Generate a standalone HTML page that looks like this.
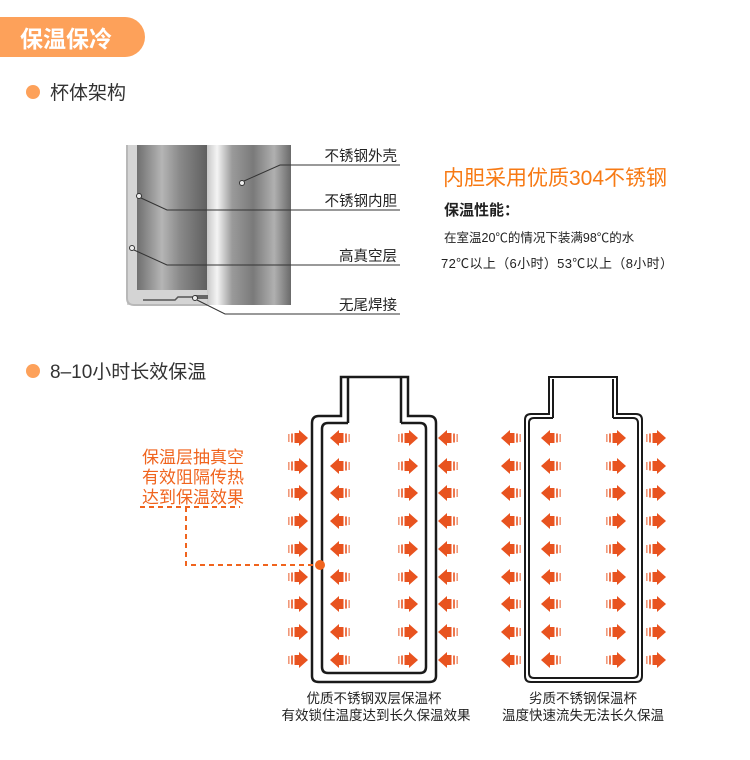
<!DOCTYPE html>
<html><head><meta charset="utf-8"><style>
body{margin:0;background:#fff;}
svg{display:block;font-family:"Liberation Sans","Noto Sans CJK SC",sans-serif;}
</style></head><body>
<svg width="750" height="760" viewBox="0 0 750 760" xmlns="http://www.w3.org/2000/svg">
<defs>
<g id="ar">
<rect x="0" y="4" width="1.6" height="8" fill="#e8531f" opacity="0.6"/>
<rect x="3" y="3.5" width="2" height="9" fill="#e8531f" opacity="0.8"/>
<rect x="6.5" y="3" width="5" height="10" fill="#e8531f"/>
<polygon points="11,0 20,8 11,16" fill="#e8531f"/>
</g>
<linearGradient id="g1" x1="0" x2="1" y1="0" y2="0">
<stop offset="0" stop-color="#6f6f6f"/><stop offset="0.35" stop-color="#b5b5b5"/><stop offset="0.6" stop-color="#8a8a8a"/><stop offset="1" stop-color="#5e5e5e"/>
</linearGradient>
<linearGradient id="g2" x1="0" x2="1" y1="0" y2="0">
<stop offset="0" stop-color="#c8c8c8"/><stop offset="0.12" stop-color="#f4f4f4"/><stop offset="0.3" stop-color="#9a9a9a"/><stop offset="0.55" stop-color="#7a7a7a"/><stop offset="0.8" stop-color="#b0b0b0"/><stop offset="1" stop-color="#6a6a6a"/>
</linearGradient>
</defs>
<path d="M0 17 H125 A20 20 0 0 1 125 57 H0 Z" fill="#fda15a"/>
<text x="20" y="47" font-size="23" font-weight="bold" fill="#fff">保温保冷</text>
<circle cx="33" cy="92" r="7" fill="#fda15a"/>
<text x="50" y="99" font-size="19" fill="#333">杯体架构</text>
<rect x="127" y="145" width="84" height="160" fill="#d4d4d4"/>
<rect x="137" y="145" width="71" height="145" fill="url(#g1)"/>
<rect x="207" y="145" width="84" height="160" fill="url(#g2)"/>
<path d="M127 145 V298 Q127 305 134 305 H207" fill="none" stroke="#b8b8b8" stroke-width="2"/>
<path d="M143 300 H175 L178 297 H207" fill="none" stroke="#555" stroke-width="1.5"/>
<rect x="195" y="295" width="13" height="4" fill="#666"/>
<g stroke="#333" stroke-width="1" fill="none">
<circle cx="242" cy="183" r="2.5" fill="#eee"/><path d="M244 181 L280 165 H400"/>
<circle cx="139" cy="196" r="2.5" fill="#eee"/><path d="M141 198 L167 210 H400"/>
<circle cx="132" cy="248" r="2.5" fill="#eee"/><path d="M134 250 L167 265 H400"/>
<circle cx="195" cy="298" r="2.5" fill="#eee"/><path d="M197 300 L225 314 H400"/>
</g>
<g font-size="14.5" fill="#222" text-anchor="end">
<text x="397" y="161">不锈钢外壳</text>
<text x="397" y="206">不锈钢内胆</text>
<text x="397" y="261">高真空层</text>
<text x="397" y="310">无尾焊接</text>
</g>
<text x="443" y="185" font-size="21" fill="#f77a14">内胆采用优质304不锈钢</text>
<text x="444" y="215" font-size="15" font-weight="bold" fill="#222">保温性能：</text>
<text x="444" y="242" font-size="12.5" fill="#222">在室温20℃的情况下装满98℃的水</text>
<text x="441" y="268" font-size="13" fill="#222" textLength="232">72℃以上（6小时）53℃以上（8小时）</text>
<circle cx="33" cy="371" r="7" fill="#fda15a"/>
<text x="50" y="378" font-size="19" fill="#333">8–10小时长效保温</text>
<g fill="none" stroke="#1a1a1a" stroke-width="2.5">
<path d="M341 416 V377 H408 V416 H429 Q436 416 436 423 V676 Q436 682 429 682 H319 Q312 682 312 676 V423 Q312 416 319 416 Z"/>
<path d="M348 423 V378 M401 423 V378 M348 423 H328 Q322 423 322 429 V667 Q322 673 328 673 H420 Q426 673 426 667 V429 Q426 423 420 423 H401"/>
</g>
<g fill="none" stroke="#1a1a1a" stroke-width="2">
<path d="M549 414 V377 H617 V414 H636 Q642 414 642 420 V676 Q642 682 636 682 H531 Q525 682 525 676 V420 Q525 414 531 414 Z"/>
<path d="M553 418 V379 M613 418 V379 M553 418 H534 Q529 418 529 423 V673 Q529 678 534 678 H633 Q638 678 638 673 V423 Q638 418 633 418 H613"/>
</g>
<g id="rows">
<g transform="translate(0,430)"><use href="#ar" x="288"/><use href="#ar" transform="translate(350,0) scale(-1,1)"/><use href="#ar" x="398"/><use href="#ar" transform="translate(458,0) scale(-1,1)"/><use href="#ar" transform="translate(521,0) scale(-1,1)"/><use href="#ar" transform="translate(561,0) scale(-1,1)"/><use href="#ar" x="606"/><use href="#ar" x="646"/></g>
</g>
<use href="#rows" y="28"/><use href="#rows" y="55"/><use href="#rows" y="83"/><use href="#rows" y="111"/><use href="#rows" y="139"/><use href="#rows" y="166"/><use href="#rows" y="194"/><use href="#rows" y="222"/>
<g font-size="17" fill="#f0641e">
<text x="142" y="463">保温层抽真空</text>
<text x="142" y="483">有效阻隔传热</text>
<text x="142" y="503">达到保温效果</text>
</g>
<path d="M140 507 H240 M186 507 V565 H318" fill="none" stroke="#f0641e" stroke-width="2" stroke-dasharray="5,4"/>
<circle cx="320" cy="565" r="5" fill="#f0641e"/>
<g font-size="13.5" fill="#222" text-anchor="middle">
<text x="374" y="703">优质不锈钢双层保温杯</text>
<text x="376" y="720">有效锁住温度达到长久保温效果</text>
<text x="583" y="703">劣质不锈钢保温杯</text>
<text x="583" y="720">温度快速流失无法长久保温</text>
</g>
</svg>
</body></html>
